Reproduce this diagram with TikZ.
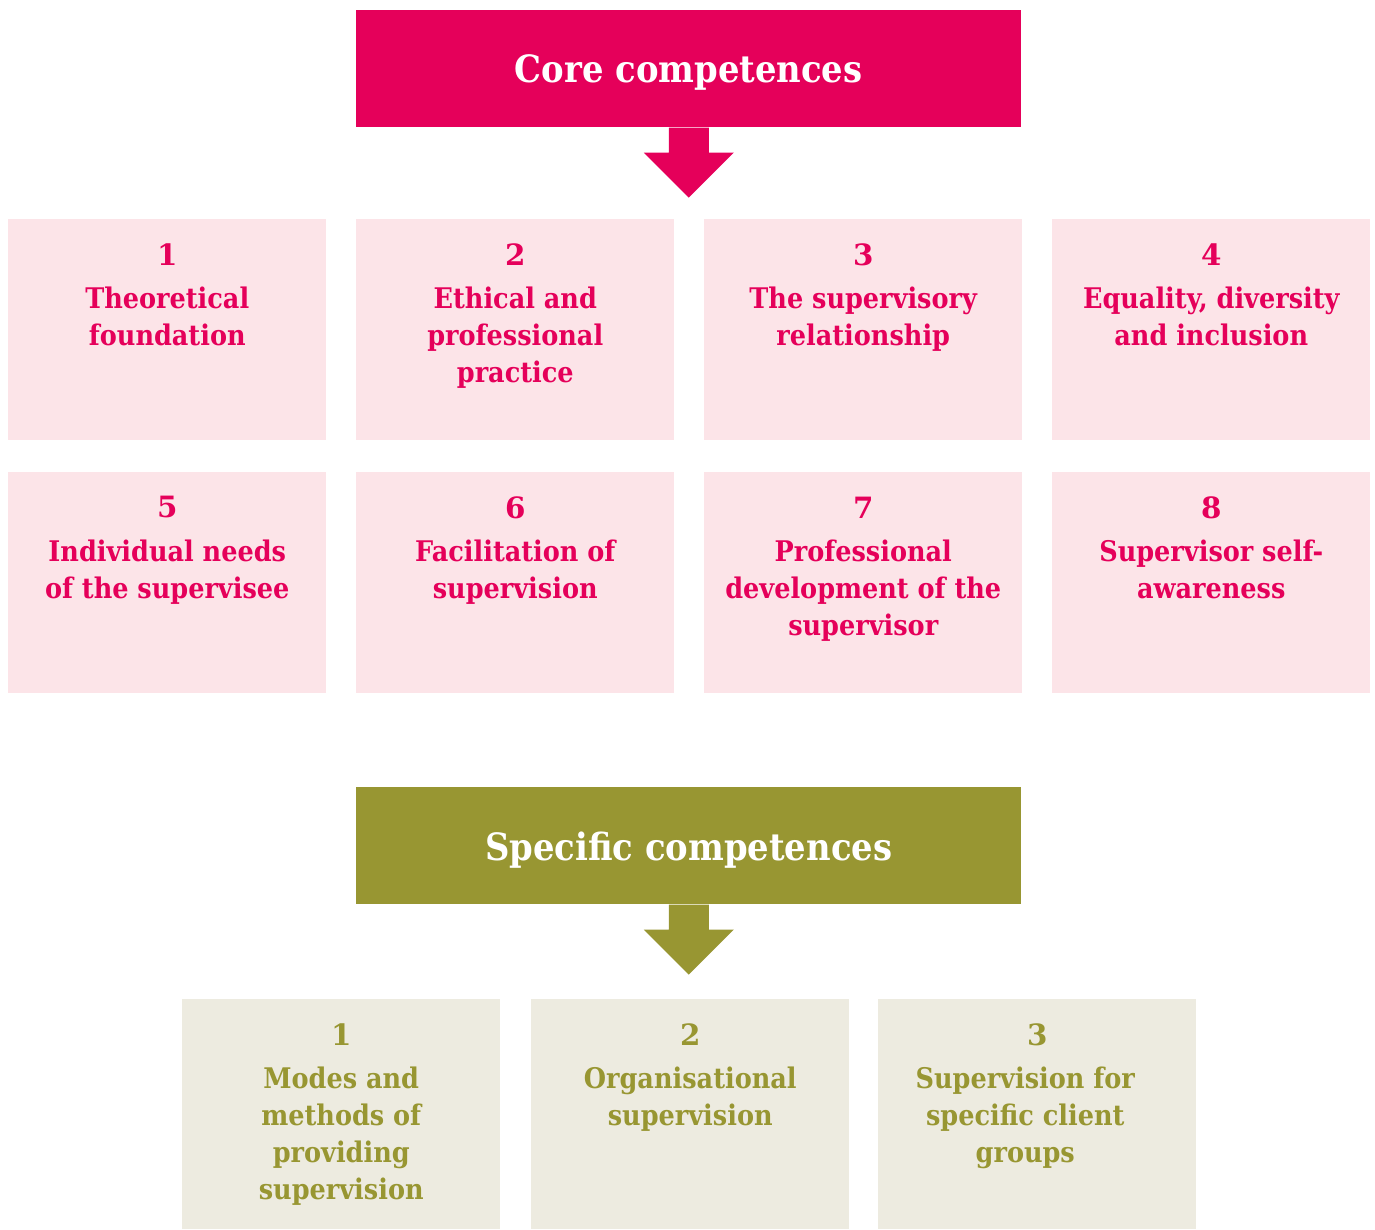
\documentclass[tikz,border=0pt]{standalone}
\usepackage{fontspec}
\setmainfont{DejaVu Serif Condensed}
\newfontfamily\numfont{DejaVu Serif}
\definecolor{corec}{RGB}{229,0,90}
\definecolor{coreb}{RGB}{252,228,232}
\definecolor{specc}{RGB}{152,150,50}
\definecolor{specb}{RGB}{237,235,224}
\begin{document}
\begin{tikzpicture}[x=0.75pt,y=-0.75pt,
  header/.style={rectangle, inner sep=0pt, minimum width=498.75pt, minimum height=87.75pt, anchor=north west, text=white, font=\fontsize{28.2}{34}\selectfont\bfseries},
  cbox/.style={rectangle, inner sep=0pt, minimum width=238.5pt, minimum height=165.75pt, anchor=north west, fill=coreb},
  sbox/.style={cbox, fill=specb, minimum height=172.5pt},
  numlbl/.style={inner sep=0pt, anchor=center, font=\numfont\fontsize{22}{26}\selectfont\bfseries},
  txtlbl/.style={inner sep=0pt, anchor=north, align=center, font=\fontsize{21.3}{27.75}\selectfont\bfseries},
]
\useasboundingbox (0,0) rectangle (1375,1229);

% Core header
\node[header, fill=corec] (core) at (356,10) {};
\node[text=white, font=\fontsize{28.2}{34}\selectfont\bfseries, inner sep=0pt] (coret) at ([yshift=-3pt]core.center) {Core competences};
\fill[corec] ([xshift=-15pt]core.south) -- ++(0,-18.75pt) -- ++(-18.75pt,0) -- ([yshift=-52.5pt]core.south) -- ([xshift=33.75pt,yshift=-18.75pt]core.south) -- ([xshift=15pt,yshift=-18.75pt]core.south) -- ([xshift=15pt]core.south) -- cycle;

% Core boxes
\foreach \i/\x/\y in {1/8/219, 2/356/219, 3/704/219, 4/1052/219, 5/8/472, 6/356/472, 7/704/472, 8/1052/472}
  \node[cbox] (c\i) at (\x,\y) {};

\foreach \i in {1,...,8}
  \node[numlbl, text=corec] (cn\i) at ([yshift=-26.6pt]c\i.north) {\i};

\node[txtlbl, text=corec] (ct1) at ([yshift=-51pt]c1.north) {Theoretical\\foundation};
\node[txtlbl, text=corec] (ct2) at ([yshift=-51pt]c2.north) {Ethical and\\professional\\practice};
\node[txtlbl, text=corec] (ct3) at ([yshift=-51pt]c3.north) {The supervisory\\relationship};
\node[txtlbl, text=corec] (ct4) at ([yshift=-51pt]c4.north) {Equality, diversity\\and inclusion};
\node[txtlbl, text=corec] (ct5) at ([yshift=-51pt]c5.north) {Individual needs\\of the supervisee};
\node[txtlbl, text=corec] (ct6) at ([yshift=-51pt]c6.north) {Facilitation of\\supervision};
\node[txtlbl, text=corec] (ct7) at ([yshift=-51pt]c7.north) {Professional\\development of the\\supervisor};
\node[txtlbl, text=corec] (ct8) at ([yshift=-51pt]c8.north) {Supervisor self-\\awareness};

% Specific header
\node[header, fill=specc] (spec) at (356,787) {};
\node[text=white, font=\fontsize{28.2}{34}\selectfont\bfseries, inner sep=0pt] (spect) at ([yshift=-3pt]spec.center) {Specific competences};
\fill[specc] ([xshift=-15pt]spec.south) -- ++(0,-18.75pt) -- ++(-18.75pt,0) -- ([yshift=-52.5pt]spec.south) -- ([xshift=33.75pt,yshift=-18.75pt]spec.south) -- ([xshift=15pt,yshift=-18.75pt]spec.south) -- ([xshift=15pt]spec.south) -- cycle;

\foreach \i/\x in {1/182, 2/531, 3/878}
  \node[sbox] (s\i) at (\x,999) {};
\foreach \i in {1,2,3}
  \node[numlbl, text=specc] (sn\i) at ([yshift=-26.6pt]s\i.north) {\i};

\node[txtlbl, text=specc] (st1) at ([yshift=-51pt]s1.north) {Modes and\\methods of\\providing\\supervision};
\node[txtlbl, text=specc] (st2) at ([yshift=-51pt]s2.north) {Organisational\\supervision};
\node[txtlbl, text=specc] (st3) at ([xshift=-9pt,yshift=-51pt]s3.north) {Supervision for\\specific client\\groups};
\end{tikzpicture}
\end{document}
